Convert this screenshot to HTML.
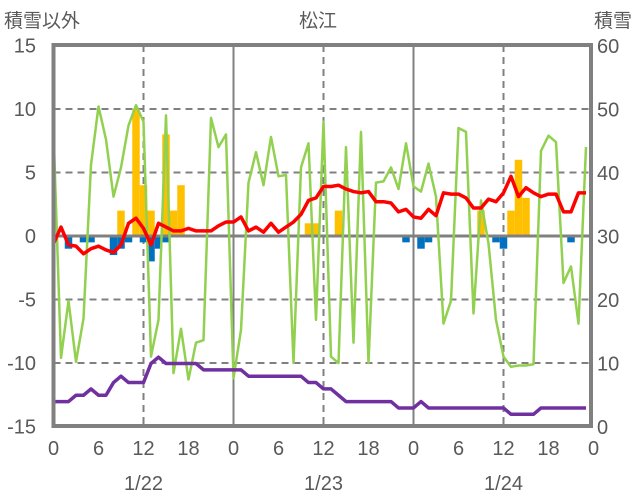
<!DOCTYPE html>
<html><head><meta charset="utf-8"><style>
html,body{margin:0;padding:0;background:#fff;}
svg{display:block;font-family:"Liberation Sans","Noto Sans CJK JP",sans-serif;}
</style></head><body>
<svg id="chart" width="636" height="501" viewBox="0 0 636 501" xmlns="http://www.w3.org/2000/svg">
<text x="4" y="27" font-size="19" fill="#595959">積雪以外</text>
<text x="318" y="27" font-size="19" fill="#595959" text-anchor="middle">松江</text>
<text x="632" y="27" font-size="19" fill="#595959" text-anchor="end">積雪</text>
<g id="grid"></g>
<g id="bars"></g>
<g id="lines"></g>
<g id="frame"></g>
<g id="labels"></g>
</svg>
<script>
const hours = Array.from({length:72},(_,i)=>i);
const greenValues = [8.3,-9.6,-5.1,-9.9,-6.5,5.6,10.2,7.6,3.1,5.4,8.7,10.3,9.0,-9.5,-6.6,9.5,-10.8,-7.3,-11.3,-8.4,-8.2,9.3,7.0,8.0,
-11.2,-7.4,4.2,6.6,4.0,7.8,4.7,4.8,-10.0,5.4,7.3,-6.6,9.0,-9.5,-10.0,7.0,-8.4,8.2,-10.0,4.2,4.3,5.4,3.7,7.3,
3.9,3.5,5.7,3.1,-6.9,-5.1,8.5,8.2,-6.1,2.8,-0.6,-6.6,-9.5,-10.3,-10.2,-10.2,-10.1,6.7,7.9,7.4,-3.7,-2.4,-6.9,7.0];
const redValues = [-0.6,0.7,-0.7,-0.8,-1.4,-1.0,-0.8,-1.1,-1.3,-0.7,1.0,1.4,0.6,-0.7,1.0,0.7,0.4,0.4,0.6,0.4,0.4,0.4,0.8,1.1,
1.1,1.5,0.4,0.7,0.3,1.0,0.3,0.7,1.1,1.7,2.8,3.0,3.9,3.9,4.0,3.7,3.5,3.4,3.5,2.7,2.7,2.6,1.9,2.1,
1.5,1.4,2.1,1.6,3.4,3.3,3.3,3.0,2.2,2.2,2.9,2.7,3.4,4.7,3.1,3.8,3.4,3.1,3.3,3.3,1.9,1.9,3.4,3.4];
const purpleValues = [4,4,4,5,5,6,5,5,7,8,7,7,7,10,11,10,10,10,10,10,9,9,9,9,
9,9,8,8,8,8,8,8,8,8,7,7,6,6,5,4,4,4,4,4,4,4,3,3,
3,4,3,3,3,3,3,3,3,3,3,3,3,2,2,2,2,3,3,3,3,3,3,3];
const orangeHours = [9,11,12,13,15,16,17,34,35,38,57,61,62,63];
const orangeValues = [2,10,4,2,8,2,4,1,1,2,2,2,6,3];
const blueHours = [2,4,5,8,9,10,12,13,14,15,47,49,50,59,60,69];
const blueValues = [-1,-0.5,-0.5,-1.5,-1,-0.5,-0.5,-2,-1,-0.5,-0.5,-1,-0.5,-0.5,-1,-0.5];
const leftTicks = [15,10,5,0,-5,-10,-15];
const rightTicks = [60,50,40,30,20,10,0];
const xTickLabels = ["0","6","12","18","0","6","12","18","0","6","12","18","0"];
const dayLabels = ["1/22","1/23","1/24"];

const NS="http://www.w3.org/2000/svg";
const X0=53.5, HR=7.5, Y0=236, YU=12.7;
function x(h){return X0+h*HR;}
function yL(v){return Y0-v*YU;}
function yR(v){return 427-v*(381/60);}
function mk(tag,attrs,parent){const e=document.createElementNS(NS,tag);for(const k in attrs)e.setAttribute(k,attrs[k]);parent.appendChild(e);return e;}
const grid=document.getElementById('grid'),bars=document.getElementById('bars'),lines=document.getElementById('lines'),frame=document.getElementById('frame'),labels=document.getElementById('labels');

leftTicks.forEach(v=>{
  if(v!==15&&v!==-15&&v!==0){
    const l=mk('line',{x1:X0,x2:591,y1:yL(v),y2:yL(v),stroke:'#808080','stroke-width':2,'stroke-dasharray':'7,5'},grid);
    
    
  }
  const t=mk('text',{x:36,y:yL(v)+7,'font-size':20,fill:'#595959','text-anchor':'end'},labels);
  t.textContent=v;
  
  
});
rightTicks.forEach(v=>{
  const t=mk('text',{x:597,y:yR(v)+7,'font-size':20,fill:'#595959'},labels);
  t.textContent=v;
  
  
});
[12,36,60].forEach(h=>{
  const l=mk('line',{x1:x(h),x2:x(h),y1:45,y2:426,stroke:'#808080','stroke-width':2,'stroke-dasharray':'7,5'},grid);
  
  
});
[24,48].forEach(h=>{
  const l=mk('line',{x1:x(h),x2:x(h),y1:45,y2:426,stroke:'#808080','stroke-width':2},grid);
  
  
});
xTickLabels.forEach((s,i)=>{
  const t=mk('text',{x:x(i*6),y:455,'font-size':20,fill:'#595959','text-anchor':'middle'},labels);
  t.textContent=s;
  
  
});
dayLabels.forEach((s,i)=>{
  const t=mk('text',{x:x(12+24*i),y:490,'font-size':20,fill:'#595959','text-anchor':'middle'},labels);
  t.textContent=s;
  
  
});
orangeHours.forEach((h,i)=>{
  const v=orangeValues[i];
  const r=mk('rect',{x:x(h)-HR/2,width:HR,y:yL(v),height:yL(0)-yL(v),fill:'#FFC000'},bars);
  
  
});
blueHours.forEach((h,i)=>{
  const v=blueValues[i];
  const r=mk('rect',{x:x(h)-HR/2,width:HR,y:yL(0),height:yL(v)-yL(0),fill:'#0070C0'},bars);
  
  
});
const zl=mk('line',{x1:X0,x2:591,y1:yL(0),y2:yL(0),stroke:'#808080','stroke-width':3},bars);


function poly(vals,fy,color,w,name){
  const p=mk('polyline',{points:vals.map((v,i)=>x(hours[i])+','+fy(v)).join(' '),fill:'none',stroke:color,'stroke-width':w,'stroke-linejoin':'round'},lines);
  
  
}
poly(greenValues,yL,'#92D050',2.5,'green-series-line');
poly(redValues,yL,'#FF0000',3.5,'red-series-line');
poly(purpleValues,yR,'#7030A0',3.5,'purple-snow-depth-line');
const b=mk('rect',{x:X0,y:45,width:591-X0,height:426-45,fill:'none',stroke:'#808080','stroke-width':4},frame);


</script>
</body></html>
